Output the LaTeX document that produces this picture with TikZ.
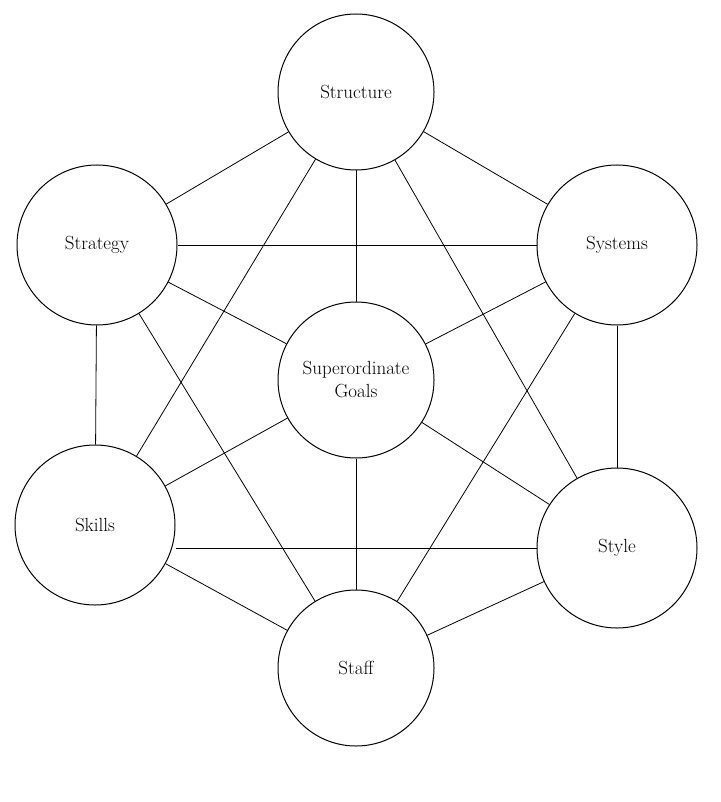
\documentclass[tikz,border=0pt]{standalone}
\usepackage{xcolor}
\usetikzlibrary{positioning}

\begin{document}
\begin{tikzpicture}[
				x=1pt, y=-1pt,
				line width=0.8pt,
				element/.style={circle, draw, line width=1pt, minimum size=156pt, inner sep=0pt, align=center,
					font=\fontsize{19}{23}\selectfont},
				link/.style={line width=0.8pt},
			]
				\useasboundingbox (0,0) rectangle (720,802);

				\node (goals) [element] at (356,380) {Superordinate\\Goals};
				\node (structure) [element] at (356,92) {Structure};
				\node (strategy) [element, minimum size=160pt] at (97,245) {Strategy};
				\node (systems) [element, minimum size=160pt] at (617,245) {Systems};
				\node (skills) [element, minimum size=160pt] at (95,525) {Skills};
				\node (style) [element, minimum size=160pt] at (617,548) {Style};
				\node (staff) [element] at (356,668) {Staff};

				% centre to every element
				\foreach \n in {structure,strategy,systems,skills,style,staff}
					\draw[link] (goals) -- (\n);

				% outer links
				\draw[link] (structure) -- (strategy);
				\draw[link] (structure) -- (systems);
				\draw[link] (structure) -- (skills);
				\draw[link] (structure) -- (style);
				\draw[link] (strategy) -- (systems);
				\draw[link] (strategy) -- (skills);
				\draw[link] (strategy) -- (staff);
				\draw[link] (systems) -- (style);
				\draw[link] (systems) -- (staff);
				\draw[link] (skills.east|-style) -- (style);
				\draw[link] (skills) -- (staff);
				\draw[link] (style) -- (staff);
\end{tikzpicture}
\end{document}
